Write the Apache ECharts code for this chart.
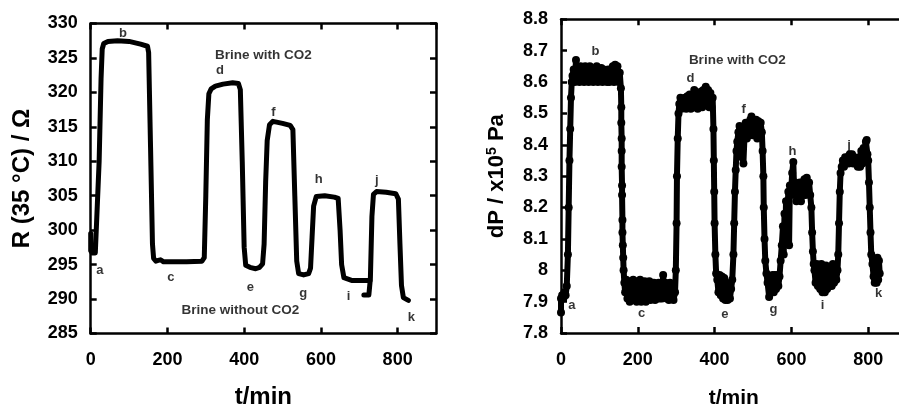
<!DOCTYPE html>
<html><head><meta charset="utf-8">
<script src="https://cdn.jsdelivr.net/npm/echarts@6/dist/echarts.min.js"></script>
<style>html,body{margin:0;padding:0;background:#fff}#c{width:899px;height:407px}</style>
</head><body><div id="c"></div>
<script>
// ---------- data ----------
// Left panel: R(35 °C) / Ω vs t/min
const resistanceSeg1 = [
  [0, 299.5], [0, 297.0], [4, 296.7], [12, 296.7], [16, 296.9], [22, 310], [27, 322], [30, 326.3],
  [34, 327.1], [45, 327.4], [70, 327.5], [100, 327.4], [130, 327.0], [148, 326.7], [151, 325.8],
  [156, 312], [161, 298], [164, 295.9], [170, 295.5], [176, 295.6], [182, 295.7], [190, 295.4],
  [250, 295.4], [290, 295.5], [296, 296.0], [300, 305], [304, 316], [308, 319.8], [314, 320.5],
  [325, 320.9], [345, 321.2], [370, 321.4], [385, 321.3], [390, 320.4], [395, 310], [400, 297.5],
  [404, 294.9], [415, 294.6], [430, 294.4], [440, 294.6], [448, 295.1], [452, 298], [456, 307],
  [460, 313], [466, 315.3], [475, 315.8], [500, 315.5], [520, 315.2], [527, 314.6], [532, 305],
  [537, 295.5], [542, 293.7], [555, 293.5], [568, 293.7], [573, 294.5], [577, 299], [581, 303.5],
  [588, 304.9], [610, 305.0], [635, 304.8], [645, 304.6], [650, 300], [654, 295], [660, 293.1],
  [680, 292.7], [728, 292.7]
];
const resistanceSeg2 = [
  [712, 290.6], [725, 290.6], [729, 293], [733, 302], [737, 305.2], [745, 305.6], [770, 305.5],
  [795, 305.3], [802, 304.5], [806, 298], [810, 292], [815, 290.2], [828, 289.8]
];
// Right panel: dP / x10^5 Pa vs t/min (noisy band: alternating upper / lower readings)
const pressureData = [
  [0, 7.865], [0, 7.91], [3, 7.92], [6, 7.91], [9, 7.93], [12, 7.92], [15, 7.95], [18, 8.05], [20, 8.2],
  [22, 8.35], [24, 8.45], [26, 8.55], [28, 8.6], [30, 8.62],
  [33, 8.64], [36, 8.60], [39, 8.67], [42, 8.61], [45, 8.64], [48, 8.60], [51, 8.65], [54, 8.61],
  [57, 8.64], [60, 8.60], [63, 8.65], [66, 8.61], [69, 8.64], [72, 8.60], [75, 8.65], [78, 8.61],
  [81, 8.63], [84, 8.60], [87, 8.64], [90, 8.61], [93, 8.65], [96, 8.60], [99, 8.64], [102, 8.61],
  [105, 8.645], [108, 8.60], [111, 8.64], [114, 8.61], [117, 8.63], [120, 8.60], [123, 8.64], [126, 8.60],
  [129, 8.63], [132, 8.61], [135, 8.65], [138, 8.60], [141, 8.655], [144, 8.61], [147, 8.65], [150, 8.60],
  [153, 8.63],
  [156, 8.58], [157, 8.52], [157, 8.47], [158, 8.42], [158, 8.38], [158, 8.33], [159, 8.27], [159, 8.24],
  [160, 8.16], [160, 8.12], [161, 8.08], [162, 8.04], [163, 8.0], [165, 7.96], [167, 7.93],
  [170, 7.97], [173, 7.91], [176, 7.96], [179, 7.90], [182, 7.965], [185, 7.91], [188, 7.97], [191, 7.905],
  [194, 7.96], [197, 7.90], [200, 7.965], [203, 7.91], [206, 7.97], [209, 7.90], [212, 7.96], [215, 7.905],
  [218, 7.965], [221, 7.90], [224, 7.96], [227, 7.91], [230, 7.965], [233, 7.905], [236, 7.96], [239, 7.91],
  [242, 7.96], [245, 7.905], [248, 7.955], [251, 7.91], [254, 7.96], [257, 7.91], [260, 7.955], [263, 7.91],
  [266, 7.985], [269, 7.915], [272, 7.96], [275, 7.91], [278, 7.955], [281, 7.905], [284, 7.96], [287, 7.91],
  [290, 7.955], [293, 7.905],
  [297, 7.93], [299, 8.0], [301, 8.15], [302, 8.3], [304, 8.42], [306, 8.5], [308, 8.53],
  [311, 8.55], [314, 8.515], [317, 8.54], [320, 8.52], [323, 8.55], [326, 8.515], [329, 8.555], [332, 8.52],
  [335, 8.56], [338, 8.515], [341, 8.55], [344, 8.52], [347, 8.575], [350, 8.52], [353, 8.56], [356, 8.515],
  [359, 8.565], [362, 8.52], [365, 8.57], [368, 8.52], [371, 8.575], [374, 8.53], [377, 8.585], [380, 8.53],
  [383, 8.575], [386, 8.52], [389, 8.565], [392, 8.52], [395, 8.55],
  [397, 8.45], [398, 8.35], [399, 8.25], [400, 8.15], [402, 8.05], [404, 7.99],
  [407, 7.97], [410, 7.93], [413, 7.985], [416, 7.92], [419, 7.98], [422, 7.91], [425, 7.975], [428, 7.905],
  [431, 7.96], [434, 7.905], [437, 7.95], [440, 7.91], [443, 7.94],
  [446, 7.97], [449, 8.05], [451, 8.15], [453, 8.25], [455, 8.32], [457, 8.38], [459, 8.41], [462, 8.44],
  [465, 8.46], [467, 8.42], [469, 8.38], [471, 8.36], [473, 8.45], [475, 8.34], [478, 8.43], [481, 8.47],
  [484, 8.42], [487, 8.46], [490, 8.43], [493, 8.48], [496, 8.49], [499, 8.43], [502, 8.48], [505, 8.43],
  [508, 8.48], [511, 8.42], [514, 8.475], [517, 8.43], [520, 8.47], [523, 8.44],
  [525, 8.38], [527, 8.3], [528, 8.2], [530, 8.1], [532, 8.03], [535, 7.99],
  [538, 7.96], [542, 7.915], [545, 7.98], [548, 7.94], [551, 7.985], [554, 7.93], [557, 7.985], [560, 7.94],
  [563, 7.985], [566, 7.95], [569, 7.98],
  [572, 8.03], [575, 8.08], [578, 8.14], [580, 8.05], [582, 8.18], [584, 8.1], [586, 8.22], [588, 8.12],
  [590, 8.2], [592, 8.25], [594, 8.08], [596, 8.27],
  [599, 8.24], [602, 8.31], [605, 8.345], [607, 8.26], [610, 8.28], [613, 8.22], [616, 8.27], [619, 8.23],
  [622, 8.28], [625, 8.22], [628, 8.28], [631, 8.24], [634, 8.29], [637, 8.24], [640, 8.295], [643, 8.25],
  [646, 8.28], [649, 8.24],
  [652, 8.2], [654, 8.12], [656, 8.06], [658, 8.02], [660, 8.0],
  [663, 7.96], [666, 8.02], [669, 7.95], [672, 8.01], [675, 7.94], [678, 8.02], [681, 7.93], [684, 8.0],
  [687, 7.93], [690, 8.015], [693, 7.94], [696, 8.0], [699, 7.95], [702, 8.01], [705, 7.95], [708, 8.02],
  [711, 7.96], [714, 8.01], [717, 7.97], [720, 8.0],
  [722, 8.05], [724, 8.15], [726, 8.25], [728, 8.31], [731, 8.33],
  [734, 8.35], [737, 8.33], [740, 8.36], [743, 8.345], [746, 8.36], [749, 8.34], [752, 8.37], [755, 8.35],
  [758, 8.37], [761, 8.34], [764, 8.36], [767, 8.34], [770, 8.35], [773, 8.33], [776, 8.36], [779, 8.33],
  [782, 8.38], [785, 8.34], [788, 8.39], [791, 8.35], [794, 8.41], [796, 8.415], [798, 8.37], [800, 8.35],
  [802, 8.28], [804, 8.2], [806, 8.12], [808, 8.05], [811, 8.02], [814, 7.98], [817, 7.96],
  [820, 8.02], [822, 7.96], [824, 8.04], [826, 7.97], [828, 8.03], [830, 7.99]
];
// annotation letters (data coordinates)
const lettersLeft = [
  ['a', 24, 294.1], ['b', 84, 328.6], ['c', 209, 293.2], ['d', 337, 323.2], ['e', 416, 291.7],
  ['f', 476, 317.1], ['g', 554, 290.8], ['h', 594, 307.4], ['i', 672, 290.4], ['j', 746, 307.2], ['k', 836, 287.3]
];
const notesLeft = [['Brine with CO2', 450, 325.4], ['Brine without CO2', 390, 288.3]];
const lettersRight = [
  ['a', 28, 7.887], ['b', 90, 8.697], ['c', 210, 7.864], ['d', 337, 8.61], ['e', 427, 7.858],
  ['f', 476, 8.513], ['g', 553, 7.876], ['h', 603, 8.379], ['i', 681, 7.887], ['j', 750, 8.397], ['k', 827, 7.927]
];
const notesRight = [['Brine with CO2', 459, 8.67]];
const xTickInterval = 200;
const xRange = [0, 900];
const rRange = [285, 330], rInterval = 5;
const pRange = [7.8, 8.8], pInterval = 0.1;

// ---------- chart ----------
const FONT = "'Liberation Sans', Arial, Helvetica, sans-serif";
const line = { show: true, onZero: false, lineStyle: { color: '#000', width: 2.5 } };
const tick = { show: true, inside: true, length: 6, lineStyle: { color: '#000', width: 2.5 } };
const lbl = { color: '#000', fontFamily: FONT, fontWeight: 'bold', fontSize: 18, showMaxLabel: false };

function xAxes(grid, nameGap, nameSize) {
  return [
    { type: 'value', gridIndex: grid, position: 'bottom', min: xRange[0], max: xRange[1], interval: xTickInterval,
      axisLine: line, axisTick: tick, splitLine: { show: false },
      axisLabel: Object.assign({ margin: 18 }, lbl),
      name: 't/min', nameLocation: 'middle', nameGap: nameGap,
      nameTextStyle: { color: '#000', fontFamily: FONT, fontWeight: 'bold', fontSize: nameSize } },
    { type: 'value', gridIndex: grid, position: 'top', min: xRange[0], max: xRange[1], interval: xTickInterval,
      axisLine: line, axisTick: tick, splitLine: { show: false }, axisLabel: { show: false } }
  ];
}
function yAxes(grid, range, interval, name, nameGap, nameSize, rich) {
  return [
    { type: 'value', gridIndex: grid, position: 'left', min: range[0], max: range[1], interval: interval,
      axisLine: line, axisTick: tick, splitLine: { show: false },
      axisLabel: Object.assign({ margin: 13 }, lbl, { showMaxLabel: true }),
      name: name, nameLocation: 'middle', nameGap: nameGap,
      nameTextStyle: { color: '#000', fontFamily: FONT, fontWeight: 'bold', fontSize: nameSize, rich: rich } },
    { type: 'value', gridIndex: grid, position: 'right', min: range[0], max: range[1], interval: interval,
      axisLine: line, axisTick: tick, splitLine: { show: false }, axisLabel: { show: false } }
  ];
}
function labelSeries(items, xi, yi, size) {
  return {
    type: 'scatter', xAxisIndex: xi, yAxisIndex: yi, symbolSize: 1, silent: true, z: 10,
    itemStyle: { color: 'rgba(0,0,0,0)' },
    data: items.map(d => ({ name: d[0], value: [d[1], d[2]] })),
    label: { show: true, position: 'inside', formatter: '{b}', color: '#000',
      fontFamily: FONT, fontWeight: 'bold', fontSize: size }
  };
}
const rLineStyle = { color: '#000', width: 5, cap: 'round', join: 'round' };

const chart = echarts.init(document.getElementById('c'), null, { renderer: 'canvas' });
chart.setOption({
  animation: false,
  backgroundColor: '#fff',
  grid: [
    { left: 90.7, top: 23.5, width: 345.3, height: 310, containLabel: false, outerBoundsMode: 'none' },
    { left: 561, top: 19.3, width: 345.6, height: 313.7, containLabel: false, outerBoundsMode: 'none' }
  ],
  xAxis: xAxes(0, 52, 24).concat(xAxes(1, 55, 21)),
  yAxis: yAxes(0, rRange, rInterval, 'R (35 °C) / Ω', 56, 24)
    .concat(yAxes(1, pRange, pInterval, 'dP / x10{sup|5} Pa', 52, 22,
      { sup: { fontSize: 14, fontWeight: 'bold', fontFamily: FONT, color: '#000', verticalAlign: 'top', padding: [0, 0, 10, 0] } })),
  series: [
    { type: 'line', xAxisIndex: 0, yAxisIndex: 0, data: resistanceSeg1, showSymbol: false, lineStyle: rLineStyle, silent: true },
    { type: 'line', xAxisIndex: 0, yAxisIndex: 0, data: resistanceSeg2, showSymbol: false, lineStyle: rLineStyle, silent: true },
    { type: 'line', xAxisIndex: 2, yAxisIndex: 2, data: pressureData, symbol: 'circle', symbolSize: 8,
      showAllSymbol: true, itemStyle: { color: '#000' }, lineStyle: { color: '#000', width: 6, join: 'round' }, silent: true },
    labelSeries(lettersLeft, 0, 0, 13),
    labelSeries(notesLeft, 0, 0, 13.5),
    labelSeries(lettersRight, 2, 2, 13),
    labelSeries(notesRight, 2, 2, 13.5)
  ]
});
</script>
</body></html>
